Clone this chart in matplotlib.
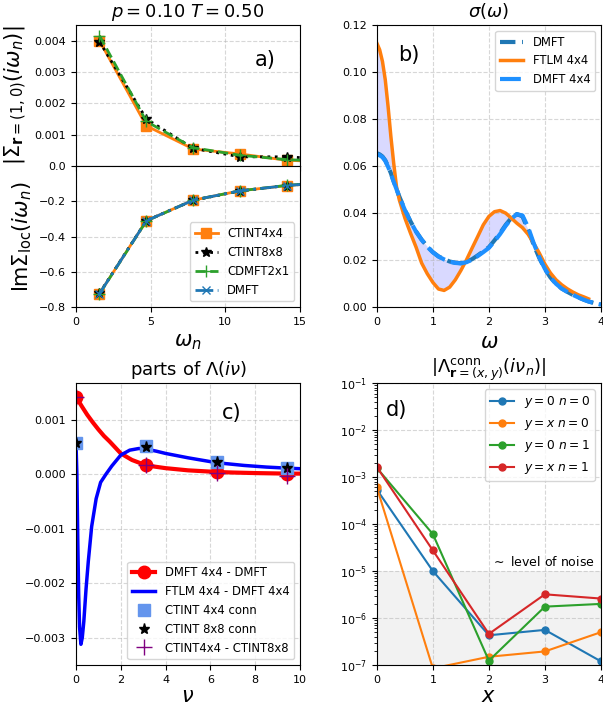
import numpy as np
import matplotlib
matplotlib.use("Agg")
import matplotlib.pyplot as plt

plt.rcParams['xtick.labelsize'] = 8
plt.rcParams['ytick.labelsize'] = 8
plt.rcParams['legend.fontsize'] = 8.4

# a) self-energy on the Matsubara axis
wn = [1.5708, 4.7124, 7.8540, 10.9956, 14.1372, 17.2788]
sig10_ctint4 = [0.00400, 0.00128, 0.00054, 0.00038, 0.00018, 0.00012]
sig10_ctint8 = [0.00397, 0.00150, 0.00056, 0.00029, 0.00029, 0.00020]
sig10_cdmft = [0.00416, 0.00142, 0.00058, 0.00034, 0.00020, 0.00014]
imsig_ctint4 = [-0.724, -0.310, -0.193, -0.140, -0.110, -0.090]
imsig_ctint8 = [-0.722, -0.309, -0.194, -0.141, -0.110, -0.091]
imsig_cdmft = [-0.725, -0.311, -0.193, -0.140, -0.109, -0.090]
imsig_dmft = [-0.724, -0.310, -0.193, -0.140, -0.110, -0.090]

# b) optical conductivity
omega = [0.0, 0.05, 0.1, 0.15, 0.2, 0.25, 0.3, 0.35, 0.4, 0.5, 0.6, 0.7, 0.8, 0.9,
         1.0, 1.1, 1.2, 1.3, 1.4, 1.5, 1.6, 1.7, 1.8, 1.9, 2.0, 2.1, 2.2, 2.3, 2.4,
         2.5, 2.6, 2.7, 2.8, 2.9, 3.0, 3.1, 3.2, 3.3, 3.4, 3.5, 3.6, 3.7, 3.78, 3.9, 4.0]
sigma_ftlm = [0.1123, 0.1095, 0.1045, 0.0967, 0.0854, 0.0726, 0.0613, 0.0513, 0.0457,
              0.0379, 0.0315, 0.0255, 0.0187, 0.0142, 0.0105, 0.0077, 0.0071, 0.0085,
              0.0116, 0.0156, 0.0201, 0.0251, 0.0300, 0.0350, 0.0386, 0.0406, 0.0411,
              0.0400, 0.0379, 0.0357, 0.0338, 0.0310, 0.0272, 0.0230, 0.0183, 0.0145,
              0.0116, 0.0095, 0.0078, 0.0064, 0.0052, 0.0043, 0.0035]
sigma_dmft = [0.0655, 0.0650, 0.0641, 0.0625, 0.0599, 0.0570, 0.0535, 0.0503, 0.0471,
              0.0414, 0.0365, 0.0322, 0.0287, 0.0258, 0.0234, 0.0216, 0.0204, 0.0194,
              0.0189, 0.0187, 0.0193, 0.0204, 0.0220, 0.0237, 0.0255, 0.0284, 0.0315,
              0.0350, 0.0379, 0.0396, 0.0386, 0.0329, 0.0265, 0.0209, 0.0162, 0.0126,
              0.0099, 0.0079, 0.0065, 0.0052, 0.0041, 0.0031, 0.0024, 0.0016, 0.0011]
sigma_dmft4 = [0.0650, 0.0646, 0.0638, 0.0622, 0.0597, 0.0568, 0.0534, 0.0502, 0.0470,
               0.0413, 0.0364, 0.0321, 0.0286, 0.0257, 0.0233, 0.0215, 0.0203, 0.0193,
               0.0188, 0.0186, 0.0191, 0.0202, 0.0217, 0.0234, 0.0252, 0.0280, 0.0311,
               0.0346, 0.0376, 0.0395, 0.0390, 0.0340, 0.0272, 0.0212, 0.0163, 0.0126,
               0.0099, 0.0079, 0.0065, 0.0052, 0.0041, 0.0031, 0.0024, 0.0016, 0.0011]

# c) parts of the vertex
nu_n = [0.0, 3.1416, 6.2832, 9.4248]
nu_red = [0.0, 0.25, 0.5, 0.75, 1.0, 1.25, 1.5, 1.75, 2.0, 2.5, 3.1416, 4.0, 5.0,
          6.2832, 7.0, 8.0, 9.4248, 10.0]
lam_dmft4_dmft = [0.00142, 0.00125, 0.00109, 0.00095, 0.00082, 0.00070, 0.00060,
                  0.00049, 0.00038, 0.00026, 0.00016, 0.00011, 0.00007, 0.00004,
                  0.00003, 0.00002, 0.00001, 0.00001]
nu_blue = [0.0, 0.04, 0.08, 0.12, 0.16, 0.22, 0.28, 0.35, 0.45, 0.55, 0.7, 0.9, 1.1,
           1.34, 1.6, 2.0, 2.4, 2.8, 3.14, 3.6, 4.0, 5.0, 6.28, 7.5, 8.5, 9.42, 10.0]
lam_ftlm_dmft4 = [0.00058, 0.0, -0.0012, -0.0022, -0.0028, -0.00312, -0.0030, -0.0027,
                  -0.0021, -0.0016, -0.00096, -0.00045, -0.00015, 0.0, 0.00015, 0.00035,
                  0.00044, 0.00047, 0.00046, 0.00042, 0.00038, 0.00030, 0.00021,
                  0.00016, 0.00013, 0.00011, 0.00010]
lam_ctint4 = [0.00058, 0.00052, 0.00023, 0.00012]
lam_ctint8 = [0.00057, 0.00049, 0.00023, 0.00012]
lam_ctint_diff = [0.00142, 0.00017, 0.00003, -0.00004]

# d) spatial decay of the connected vertex
xs = [0, 1, 2, 3, 4]
lam_y0_n0 = [5.4e-4, 1.0e-5, 4.3e-7, 5.6e-7, 1.2e-7]
lam_yx_n0 = [6.0e-4, 8.5e-8, 1.5e-7, 1.95e-7, 5.0e-7]
lam_y0_n1 = [1.56e-3, 6.1e-5, 1.24e-7, 1.75e-6, 2.0e-6]
lam_yx_n1 = [1.63e-3, 2.75e-5, 4.6e-7, 3.2e-6, 2.6e-6]


def grid(ax):
    ax.grid(True, ls='--', alpha=0.5)


fig = plt.figure(figsize=(6.03, 7.06), dpi=100)
ax_a1 = fig.add_axes([0.126, 0.765, 0.3715, 0.1997])
ax_a2 = fig.add_axes([0.126, 0.565, 0.3715, 0.1997], sharex=ax_a1)
ax_b = fig.add_axes([0.625, 0.565, 0.3715, 0.3994])
ax_c = fig.add_axes([0.126, 0.058, 0.3715, 0.3994])
ax_d = fig.add_axes([0.625, 0.058, 0.3715, 0.3994])

# --- a) ---
ax_a1.plot(wn, sig10_ctint4, '-', color='C1', marker='s', ms=7, lw=2)
ax_a1.plot(wn, sig10_ctint8, ':', color='k', marker='*', ms=7, lw=2)
ax_a1.plot(wn, sig10_cdmft, '--', color='C2', marker='+', ms=8, lw=2)
ax_a1.set_ylim(0, 0.0045)
ax_a1.set_yticks([0.001, 0.002, 0.003, 0.004])
ax_a1.tick_params(labelbottom=False)
ax_a1.set_title(r'$p=0.10$ $T=0.50$', fontsize=13)
ax_a1.set_ylabel(r'$|\Sigma_{\mathbf{r}=(1,0)}(i\omega_n)|$', fontsize=15)
ax_a1.text(0.80, 0.75, 'a)', transform=ax_a1.transAxes, fontsize=15, va='center')
grid(ax_a1)

ax_a2.plot(wn, imsig_ctint4, '-', color='C1', marker='s', ms=7, lw=2, label='CTINT4x4')
ax_a2.plot(wn, imsig_ctint8, ':', color='k', marker='*', ms=7, lw=2, label='CTINT8x8')
ax_a2.plot(wn, imsig_cdmft, '--', color='C2', marker='+', ms=8, lw=2, label='CDMFT2x1')
ax_a2.plot(wn, imsig_dmft, '-.', color='C0', marker='x', ms=6, lw=2, label='DMFT')
ax_a2.set_xlim(0, 15)
ax_a2.set_ylim(-0.8, 0)
ax_a2.set_yticks([-0.8, -0.6, -0.4, -0.2, 0.0])
ax_a2.set_yticklabels(['\u22120.8', '\u22120.6', '\u22120.4', '\u22120.2', '0.0'])
ax_a2.set_xticks([0, 5, 10, 15])
ax_a2.set_xlabel(r'$\omega_n$', fontsize=15)
ax_a2.set_ylabel(r'$\mathrm{Im}\Sigma_{\mathrm{loc}}(i\omega_n)$', fontsize=15)
ax_a2.legend(loc='lower right')
grid(ax_a2)

# --- b) ---
n_ftlm = len(sigma_ftlm)
ax_b.plot(omega, sigma_dmft, '--', color='C0', lw=3, label='DMFT')
ax_b.plot(omega[:n_ftlm], sigma_ftlm, '-', color='C1', lw=2.5, label='FTLM 4x4')
ax_b.plot(omega, sigma_dmft4, color='dodgerblue', lw=3, dashes=(5, 1.5), label='DMFT 4x4')
ax_b.fill_between(omega[:n_ftlm], sigma_ftlm, sigma_dmft[:n_ftlm], color='blue', alpha=0.15, lw=0)
ax_b.set_xlim(0, 4)
ax_b.set_ylim(0, 0.12)
ax_b.set_yticks(np.arange(0, 0.121, 0.02))
ax_b.set_xticks([0, 1, 2, 3, 4])
ax_b.set_title(r'$\sigma(\omega)$', fontsize=13)
ax_b.set_xlabel(r'$\omega$', fontsize=15)
ax_b.text(0.094, 0.894, 'b)', transform=ax_b.transAxes, fontsize=15, va='center')
ax_b.legend(loc='upper right')
grid(ax_b)

# --- c) ---
marks = [nu_red.index(v) for v in nu_n]
ax_c.plot(nu_red, lam_dmft4_dmft, '-', color='red', lw=3, marker='o', ms=9,
          markevery=marks, label='DMFT 4x4 - DMFT')
ax_c.plot(nu_blue, lam_ftlm_dmft4, '-', color='blue', lw=2.5, label='FTLM 4x4 - DMFT 4x4')
ax_c.plot(nu_n, lam_ctint4, 's', color='cornflowerblue', ms=9, label='CTINT 4x4 conn')
ax_c.plot(nu_n, lam_ctint8, '*', color='k', ms=8, label='CTINT 8x8 conn')
ax_c.plot(nu_n, lam_ctint_diff, '+', color='purple', ms=11, label='CTINT4x4 - CTINT8x8')
ax_c.set_xlim(0, 10)
ax_c.set_ylim(-0.0035, 0.00167)
ax_c.set_yticks([-0.003, -0.002, -0.001, 0.0, 0.001])
ax_c.set_xticks([0, 2, 4, 6, 8, 10])
ax_c.set_title(r'parts of $\Lambda(i\nu)$', fontsize=13)
ax_c.set_xlabel(r'$\nu$', fontsize=15, labelpad=1)
ax_c.text(0.65, 0.894, 'c)', transform=ax_c.transAxes, fontsize=15, va='center')
ax_c.legend(loc='lower right')
grid(ax_c)

# --- d) ---
ax_d.axhspan(1e-7, 1e-5, color='gray', alpha=0.1, lw=0)
ax_d.plot(xs, lam_y0_n0, '-o', color='C0', ms=5, lw=1.5, label=r'$y=0\ n=0$')
ax_d.plot(xs, lam_yx_n0, '-o', color='C1', ms=5, lw=1.5, label=r'$y=x\ n=0$')
ax_d.plot(xs, lam_y0_n1, '-o', color='C2', ms=5, lw=1.5, label=r'$y=0\ n=1$')
ax_d.plot(xs, lam_yx_n1, '-o', color='C3', ms=5, lw=1.5, label=r'$y=x\ n=1$')
ax_d.text(2.03, 1.1e-5, r'$\sim$ level of noise', fontsize=9, va='bottom')
ax_d.set_yscale('log')
ax_d.set_xlim(0, 4)
ax_d.set_ylim(1e-7, 1e-1)
ax_d.set_xticks([0, 1, 2, 3, 4])
ax_d.set_title(r'$|\Lambda^{\mathrm{conn}}_{\mathbf{r}=(x,y)}(i\nu_n)|$', fontsize=13)
ax_d.set_xlabel(r'$x$', fontsize=15, labelpad=1)
ax_d.text(0.04, 0.904, 'd)', transform=ax_d.transAxes, fontsize=15, va='center')
ax_d.legend(loc='upper right', fontsize=8.8)
grid(ax_d)

fig.savefig('out.png', dpi=100)
